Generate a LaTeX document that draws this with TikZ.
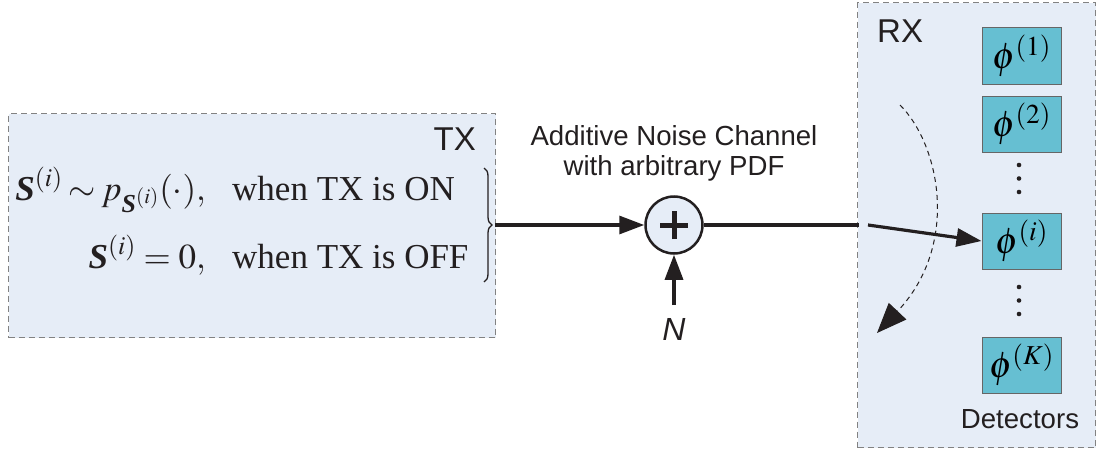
\documentclass[tikz,border=0pt]{standalone}
\usepackage{amsmath}
\usepackage{mathptmx}
\usepackage{fontspec}
\setmainfont{Liberation Serif}
\newfontfamily\arialfont{Liberation Sans}
\usetikzlibrary{arrows.meta,decorations.pathreplacing}
\definecolor{boxfill}{RGB}{230,237,247}
\definecolor{boxline}{RGB}{130,130,130}
\definecolor{detfill}{RGB}{102,191,210}
\definecolor{ink}{RGB}{35,31,32}
\newcommand{\bS}{\text{\bfseries\itshape S}}
\tikzset{
  region/.style={draw=boxline, fill=boxfill, dash pattern=on 6pt off 4pt, line width=1.4pt, inner sep=0},
  detbox/.style={draw=gray!80!black, fill=detfill, minimum width=79pt, minimum height=56pt, line width=1pt, inner sep=0, font=\fontsize{37}{42}\selectfont},
  conn/.style={draw=ink, line width=3.2pt},
  bigtip/.style={-{Triangle[length=25pt,width=18pt]}},
  sanslabel/.style={font=\arialfont\fontsize{27.6}{33}\selectfont, text=ink, inner sep=0},
  biglabel/.style={font=\arialfont\fontsize{33}{40}\selectfont, text=ink, inner sep=0},
  mathtext/.style={font=\fontsize{35}{42}\selectfont, text=ink, inner sep=0},
  dotmark/.style={fill=ink, draw=none},
}
\begin{document}
\begin{tikzpicture}[x=1pt,y=-1pt]
\useasboundingbox (0,0) rectangle (1100,452);
% regions
\node[region, minimum width=487pt, minimum height=224pt, anchor=north west] (tx) at (8,113) {};
\node[region, minimum width=238pt, minimum height=445pt, anchor=north west] (rx) at (857,2) {};
\node[biglabel, anchor=base east] (txlab) at (476,150) {TX};
\node[biglabel, anchor=base west] (rxlab) at (877,43) {RX};
% TX text
\node[mathtext, anchor=base east] (l1a) at (206,200) {$\bS^{(i)}\mathrel{\mkern-1mu\sim\mkern-1mu} p_{\bS^{(i)}}(\cdot),$};
\node[mathtext, anchor=base west] (l1b) at (232,200) {when TX is ON};
\node[mathtext, anchor=base east] (l2a) at (206,268) {$\bS^{(i)} = 0,$};
\node[mathtext, anchor=base west] (l2b) at (232,268) {when TX is OFF};
\draw[decorate, decoration={brace, amplitude=8pt}, ink, line width=1.3pt] (484,168) -- (484,282);
\coordinate (bt) at (495,225);
% channel
\node[sanslabel, anchor=base] (ch1) at (674,145) {Additive Noise Channel};
\node[sanslabel, anchor=base] (ch2) at (674,175) {with arbitrary PDF};
\node[circle, draw=ink, line width=2.5pt, fill=boxfill, minimum size=57pt, inner sep=0] (add) at (674,225) {};
\draw[ink, line width=5pt] ([xshift=-14pt]add.center) -- ([xshift=14pt]add.center);
\draw[ink, line width=5pt] ([yshift=-14pt]add.center) -- ([yshift=14pt]add.center);
\node[font=\arialfont\itshape\fontsize{32}{36}\selectfont, text=ink, inner sep=0, anchor=base] (nlab) at (674,340) {N};
\coordinate (nstart) at (674,305);
\draw[conn, bigtip] (bt) -- (add.west);
\draw[conn, bigtip] (nstart) -- (add.south);
% detectors
\node[detbox] (d1) at (1021.5,56) {$\phi^{(1)}$};
\node[detbox] (d2) at (1021.5,124) {$\phi^{(2)}$};
\node[detbox] (di) at (1021.5,241) {$\phi^{(i)}$};
\node[detbox] (dk) at (1021.5,365) {$\phi^{(K)}$};
\foreach \yy in {165,178.5,192,287,300.5,314} \fill[dotmark] (1019,\yy) circle (2.3pt);
\node[sanslabel, anchor=base] (detlab) at (1020,428) {Detectors};
% RX connectors
\coordinate (rxin) at (859,225);
\coordinate (selstart) at (868,225);
\draw[conn] (add.east) -- (rxin);
\draw[conn, bigtip] (selstart) -- (di.west);
\coordinate (cs) at (900,105);
\coordinate (ce) at (877,333);
\draw[ink, line width=1pt, dash pattern=on 5pt off 4pt, -{Triangle[length=30pt,width=24pt]}] (cs) .. controls (940,145) and (960,245) .. (ce);
\end{tikzpicture}
\end{document}
